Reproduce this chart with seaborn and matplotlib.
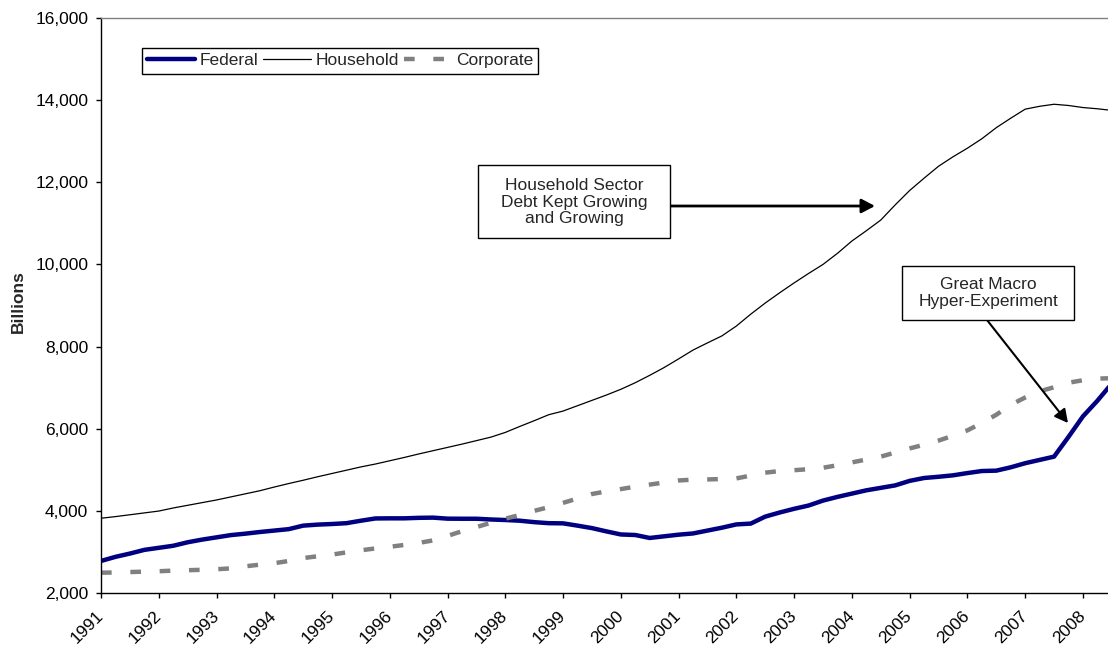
import numpy as np
import matplotlib
matplotlib.use("Agg")
import matplotlib.pyplot as plt
import seaborn as sns
from matplotlib.patches import Rectangle

# Debt outstanding by sector, billions of dollars, quarterly from 1991 Q1
first_year = 1991
year_labels = [str(y) for y in range(1991, 2009)]

federal = [
    2780, 2880, 2960, 3050, 3100, 3150, 3235, 3300, 3355, 3410,
    3445, 3485, 3520, 3555, 3640, 3665, 3680, 3700, 3760, 3815,
    3818, 3818, 3830, 3835, 3810, 3808, 3808, 3790, 3777, 3760,
    3725, 3700, 3696, 3640, 3580, 3500, 3425, 3412, 3340, 3380,
    3420, 3450, 3520, 3590, 3670, 3690, 3860, 3960, 4050, 4130,
    4250, 4340, 4420, 4500, 4560, 4620, 4730, 4800, 4830, 4865,
    4920, 4970, 4979, 5060, 5160, 5240, 5320, 5800, 6300, 6680,
    7100,
]
household = [
    3820, 3860, 3905, 3950, 3995, 4070, 4135, 4200, 4265, 4340,
    4415, 4490, 4580, 4665, 4745, 4830, 4910, 4990, 5070, 5140,
    5220, 5300, 5385, 5465, 5545, 5625, 5710, 5795, 5910, 6055,
    6195, 6340, 6430, 6560, 6690, 6820, 6960, 7120, 7300, 7490,
    7700, 7915, 8090, 8260, 8500, 8790, 9060, 9310, 9550, 9780,
    10000, 10270, 10570, 10820, 11080, 11450, 11800, 12100, 12390, 12620,
    12830, 13060, 13330, 13560, 13780, 13850, 13900, 13870, 13820, 13790,
    13750,
]
corporate = [
    2494, 2500, 2510, 2520, 2530, 2545, 2555, 2565, 2578, 2600,
    2650, 2690, 2725, 2780, 2850, 2895, 2935, 2990, 3040, 3085,
    3125, 3170, 3220, 3280, 3390, 3505, 3605, 3710, 3810, 3900,
    4000, 4090, 4195, 4300, 4410, 4475, 4530, 4590, 4640, 4690,
    4740, 4760, 4765, 4775, 4790, 4860, 4930, 4970, 4990, 5015,
    5050, 5110, 5180, 5250, 5320, 5420, 5520, 5610, 5710, 5830,
    5960, 6140, 6340, 6580, 6760, 6910, 7010, 7120, 7180, 7220,
    7230,
]

quarters = first_year + np.arange(len(federal)) / 4.0

sns.set_style("white")
plt.rcParams["font.family"] = ["Liberation Sans", "DejaVu Sans"]
FS = 12.5

W, H = 1108, 646
fig = plt.figure(figsize=(W / 100, H / 100), dpi=100)
ax = fig.add_axes([101 / W, 1 - 593 / H, (W - 101) / W, (593 - 18) / H])

sns.lineplot(x=quarters, y=federal, ax=ax, color="#000080", linewidth=3.2,
             label="Federal")
sns.lineplot(x=quarters, y=household, ax=ax, color="black", linewidth=0.9,
             label="Household")
sns.lineplot(x=quarters, y=corporate, ax=ax, color="#808080", linewidth=3.2,
             label="Corporate")
lines = ax.get_lines()
lines[0].set_solid_joinstyle("round")
lines[2].set_linestyle((0, (2.4, 4.2)))
lines[2].set_dash_capstyle("butt")

ax.set_xlim(first_year, first_year + (W - 101) / 57.76)
ax.set_ylim(2000, 16000)
ax.set_yticks(np.arange(2000, 16001, 2000))
ax.set_yticklabels([f"{v:,.0f}" for v in range(2000, 16001, 2000)], fontsize=FS)
ax.set_xticks(np.arange(1991, 2009))
ax.set_xticklabels(year_labels, rotation=45, ha="right", va="center",
                   rotation_mode="anchor", fontsize=FS)
ax.tick_params(axis="both", which="major", bottom=True, left=True,
               direction="out", length=3.6, width=1, color="black",
               labelcolor="black")
ax.tick_params(axis="y", pad=5.5)
ax.tick_params(axis="x", pad=11)
ax.set_xlabel("")
ax.set_ylabel("")

for side in ("left", "bottom"):
    ax.spines[side].set_color("black")
    ax.spines[side].set_linewidth(1)
ax.spines["top"].set_color("#808080")
ax.spines["top"].set_linewidth(1)
ax.spines["right"].set_visible(False)

leg = ax.legend(loc="upper left", bbox_to_anchor=(142 / W, 1 - 48 / H),
                bbox_transform=fig.transFigure, ncol=3, frameon=True,
                fancybox=False, framealpha=1, edgecolor="black",
                fontsize=FS, handlelength=2.75, handletextpad=0.25,
                columnspacing=0.3, borderpad=0.3, borderaxespad=0)
leg.get_frame().set_linewidth(1)

fig.text(18 / W, 1 - 302 / H, "Billions", rotation=90, ha="center",
         va="center", fontsize=FS, fontweight="bold")

# Callout: household sector
fig.add_artist(Rectangle((478 / W, 1 - 238 / H), 192 / W, 73 / H,
                         transform=fig.transFigure, facecolor="white",
                         edgecolor="black", linewidth=1))
fig.text(574 / W, 1 - 202 / H,
         "Household Sector\nDebt Kept Growing\nand Growing",
         ha="center", va="center", multialignment="center", fontsize=FS,
         linespacing=1.1)
ax.annotate("", xy=(875 / W, 1 - 206 / H), xytext=(670 / W, 1 - 206 / H),
            xycoords="figure fraction", textcoords="figure fraction",
            arrowprops=dict(arrowstyle="-|>,head_length=0.8,head_width=0.42",
                            color="black", lw=2, shrinkA=0, shrinkB=0))

# Callout: federal surge
fig.add_artist(Rectangle((902 / W, 1 - 320 / H), 172 / W, 54 / H,
                         transform=fig.transFigure, facecolor="white",
                         edgecolor="black", linewidth=1))
fig.text(988 / W, 1 - 293 / H, "Great Macro\nHyper-Experiment",
         ha="center", va="center", multialignment="center", fontsize=FS,
         linespacing=1.1)
ax.annotate("", xy=(1068 / W, 1 - 423 / H), xytext=(987 / W, 1 - 320 / H),
            xycoords="figure fraction", textcoords="figure fraction",
            arrowprops=dict(arrowstyle="-|>,head_length=0.8,head_width=0.42",
                            color="black", lw=1.5, shrinkA=0, shrinkB=0))

fig.savefig("out.png", dpi=100)
